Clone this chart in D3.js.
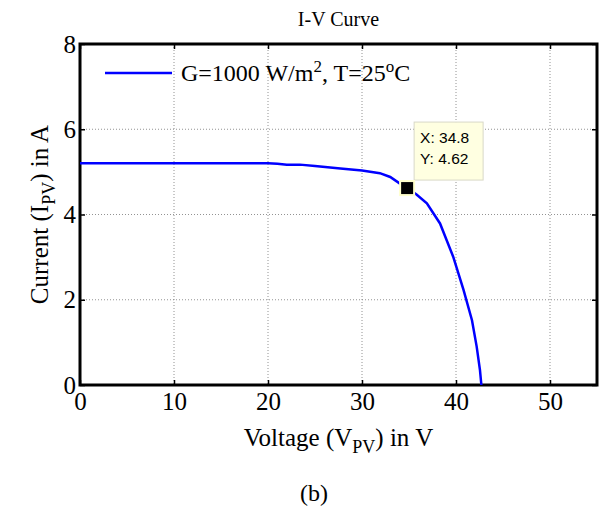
<!DOCTYPE html>
<html>
<head>
<meta charset="utf-8">
<script src="https://cdn.jsdelivr.net/npm/d3@7"></script>
<style>
  body { margin: 0; background: #fff; }
  svg { display: block; }
  text { font-family: "Liberation Serif", "Times New Roman", serif; fill: #000; }
</style>
</head>
<body>
<div id="chart"></div>
<script>
// I-V curve data
var voltage = [0, 5, 10, 15, 20, 21, 22, 23.4, 25, 27.7, 30, 31.9, 33, 34, 34.8, 35.8, 36.9, 38.3, 39.7, 40.8, 41.7, 42.2, 42.55, 42.7];
var current = [5.2, 5.2, 5.2, 5.2, 5.2, 5.19, 5.17, 5.17, 5.14, 5.08, 5.03, 4.97, 4.88, 4.73, 4.62, 4.47, 4.26, 3.79, 3.01, 2.23, 1.52, 0.9, 0.35, 0];
var xTicks = [0, 10, 20, 30, 40, 50];
var yTicks = [0, 2, 4, 6, 8];
var tipPoint = { v: 34.8, i: 4.62 };

var width = 599, height = 512;
var margin = { top: 44, left: 80, right: 2, bottom: 127 };
var chartWidth = width - margin.left - margin.right;
var chartHeight = height - margin.top - margin.bottom;

var svg = d3.select("#chart").append("svg")
  .attr("width", width)
  .attr("height", height);

var chart = svg.append("g")
  .attr("transform", `translate(${margin.left}, ${margin.top})`);

var x = d3.scaleLinear().domain([0, 55]).range([0, chartWidth]);
var y = d3.scaleLinear().domain([0, 8]).range([chartHeight, 0]);

// grid
chart.append("g").selectAll("line")
  .data(xTicks.slice(1))
  .join("line")
  .attr("x1", d => x(d)).attr("x2", d => x(d))
  .attr("y1", 0).attr("y2", chartHeight)
  .attr("stroke", "#777").attr("stroke-width", 0.8)
  .attr("stroke-dasharray", "1,2");

chart.append("g").selectAll("line")
  .data(yTicks.slice(1, -1))
  .join("line")
  .attr("y1", d => y(d)).attr("y2", d => y(d))
  .attr("x1", 0).attr("x2", chartWidth)
  .attr("stroke", "#777").attr("stroke-width", 0.8)
  .attr("stroke-dasharray", "1,2");

// axes with inward ticks
var xAxis = chart.append("g")
  .attr("transform", `translate(0, ${chartHeight})`)
  .call(d3.axisBottom(x).tickValues(xTicks).tickSizeInner(-5).tickSizeOuter(0).tickPadding(9));
var yAxis = chart.append("g")
  .call(d3.axisLeft(y).tickValues(yTicks).tickSizeInner(-5).tickSizeOuter(0).tickPadding(4));
chart.append("g")
  .call(d3.axisTop(x).tickValues(xTicks).tickSizeInner(-5).tickSizeOuter(0).tickFormat(""));
chart.append("g")
  .attr("transform", `translate(${chartWidth}, 0)`)
  .call(d3.axisRight(y).tickValues(yTicks).tickSizeInner(-5).tickSizeOuter(0).tickFormat(""));

chart.selectAll(".domain").remove();
chart.selectAll(".tick line").attr("stroke", "#000").attr("stroke-width", 1.5);
xAxis.selectAll(".tick text")
  .attr("font-size", 25)
  .attr("dy", "0.62em");
yAxis.selectAll(".tick text")
  .attr("font-size", 25);

// frame
chart.append("rect")
  .attr("width", chartWidth).attr("height", chartHeight)
  .attr("fill", "none").attr("stroke", "#000").attr("stroke-width", 3);

// curve
var points = voltage.map((v, i) => [v, current[i]]);
var line = d3.line().x(d => x(d[0])).y(d => y(d[1]));
chart.append("path")
  .datum(points)
  .attr("d", line)
  .attr("fill", "none")
  .attr("stroke", "#0000ff")
  .attr("stroke-width", 2.5);

// legend
chart.append("line")
  .attr("x1", 25).attr("x2", 92)
  .attr("y1", 29).attr("y2", 29)
  .attr("stroke", "#0000ff").attr("stroke-width", 2.5);
var legendText = chart.append("text")
  .attr("x", 101).attr("y", 37)
  .attr("font-size", 24);
legendText.append("tspan").text("G=1000 W/m");
legendText.append("tspan").attr("dy", -9).attr("font-size", 17).text("2");
legendText.append("tspan").attr("dy", 9).text(", T=25");
legendText.append("tspan").attr("dy", -9).attr("font-size", 17).text("o");
legendText.append("tspan").attr("dy", 9).text("C");

// data tip
var tx = x(tipPoint.v), ty = y(tipPoint.i);
var tip = chart.append("g");
tip.append("rect")
  .attr("x", tx + 7).attr("y", ty - 66)
  .attr("width", 69).attr("height", 58)
  .attr("fill", "#ffffe1").attr("stroke", "#d8d8c8").attr("stroke-width", 1);
tip.selectAll("text")
  .data(["X: " + tipPoint.v, "Y: " + tipPoint.i])
  .join("text")
  .attr("x", tx + 13)
  .attr("y", (d, i) => ty - 45 + i * 21)
  .attr("font-size", 15.5)
  .style("font-family", "'Liberation Sans', Arial, sans-serif")
  .text(d => d);
tip.append("rect")
  .attr("x", tx - 7).attr("y", ty - 7)
  .attr("width", 14).attr("height", 14)
  .attr("fill", "#000").attr("stroke", "#ffffcc").attr("stroke-width", 2);

// title
svg.append("text")
  .attr("x", margin.left + chartWidth / 2).attr("y", 26)
  .attr("text-anchor", "middle")
  .attr("font-size", 20)
  .text("I-V Curve");

// x label
var xl = svg.append("text")
  .attr("x", margin.left + chartWidth / 2).attr("y", 446)
  .attr("text-anchor", "middle")
  .attr("font-size", 25);
xl.append("tspan").text("Voltage (V");
xl.append("tspan").attr("dy", 7).attr("font-size", 18).text("PV");
xl.append("tspan").attr("dy", -7).text(") in V");

// y label
var yl = svg.append("text")
  .attr("transform", `translate(48, ${margin.top + chartHeight / 2}) rotate(-90)`)
  .attr("text-anchor", "middle")
  .attr("font-size", 25);
yl.append("tspan").text("Current (I");
yl.append("tspan").attr("dy", 7).attr("font-size", 18).text("PV");
yl.append("tspan").attr("dy", -7).text(") in A");

// caption
svg.append("text")
  .attr("x", 314).attr("y", 501)
  .attr("text-anchor", "middle")
  .attr("font-size", 24)
  .text("(b)");
</script>
</body>
</html>
